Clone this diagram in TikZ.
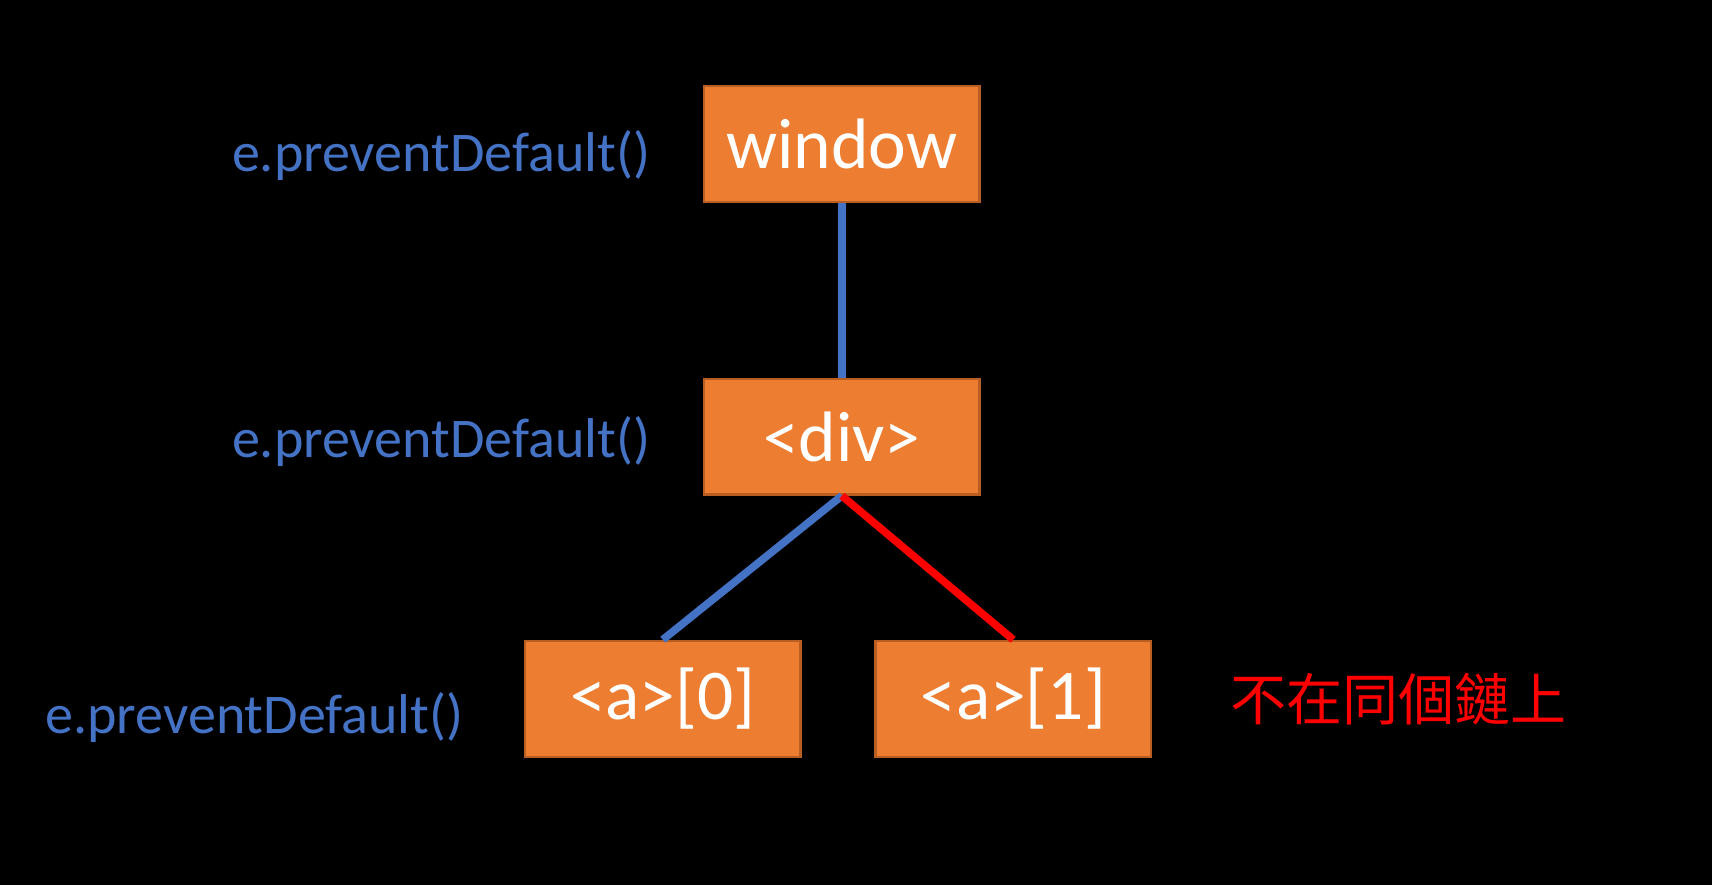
\documentclass[tikz,border=0pt]{standalone}
\usepackage{fontspec}
\setmainfont{Carlito}
\newfontfamily\cjk{Noto Sans CJK TC}
\usepackage{xcolor}
\usetikzlibrary{positioning}
\definecolor{boxorange}{HTML}{ED7D31}
\definecolor{boxedge}{HTML}{B85E22}
\definecolor{linkblue}{HTML}{4472C4}
\definecolor{linkred}{HTML}{FF0000}

\begin{document}
\begin{tikzpicture}[x=0.01cm,y=-0.01cm,
    elem/.style={draw=boxedge, line width=0.6pt, fill=boxorange, minimum width=2.52cm,
        minimum height=1.06cm, inner sep=0pt, text=white, font=\fontsize{18.6}{20}\selectfont},
    calltext/.style={text=linkblue, inner sep=0pt, font=\fontsize{14.6}{16}\selectfont},
    edge/.style={line width=2pt}
]
    % Background
    \fill[black] (0,0) rectangle (1568,810.6);

    % Elements
    \node[elem] (win) at (771,132) {window};
    \node[elem] (div) at (771,400) {<div>};
    \node[elem] (a0) at (607,640) {<a>[0]};
    \node[elem] (a1) at (928,640) {<a>[1]};

    % Links
    \draw[edge, linkblue] (win.south) -- (div.north);
    \draw[edge, linkblue] (div.south) -- (a0.north);
    \draw[edge, linkred] (div.south) -- (a1.north);

    % Handler labels
    \node[calltext] (calwin) at (404,142) {e.preventDefault()};
    \node[calltext] (caldiv) at (404,404) {e.preventDefault()};
    \node[calltext] (cala) at (233,657) {e.preventDefault()};

    % Note
    \node[text=linkred, inner sep=0pt, font=\cjk\fontsize{14.6}{16}\selectfont] (note) at (1281,640) {不在同個鏈上};
\end{tikzpicture}
\end{document}
